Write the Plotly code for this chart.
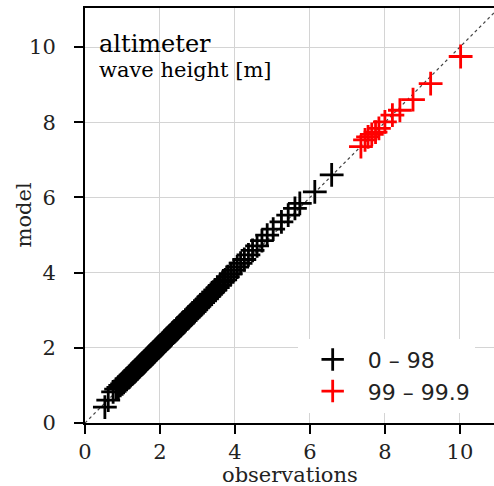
import plotly.graph_objects as go

# percentiles 0..98 (black) and 99..99.9 (red)
obs_low = [0.53, 0.62, 0.75, 0.83, 0.89, 0.94, 0.99, 1.03, 1.07, 1.11,
           1.15, 1.18, 1.21, 1.25, 1.28, 1.31, 1.34, 1.37, 1.40, 1.43,
           1.46, 1.49, 1.52, 1.55, 1.58, 1.61, 1.64, 1.67, 1.70, 1.73,
           1.76, 1.79, 1.82, 1.85, 1.88, 1.91, 1.94, 1.97, 2.00, 2.03,
           2.06, 2.09, 2.12, 2.15, 2.18, 2.21, 2.24, 2.27, 2.31, 2.34,
           2.37, 2.40, 2.44, 2.47, 2.50, 2.54, 2.57, 2.61, 2.64, 2.68,
           2.72, 2.76, 2.80, 2.84, 2.88, 2.92, 2.96, 3.01, 3.05, 3.10,
           3.15, 3.20, 3.25, 3.30, 3.36, 3.42, 3.48, 3.54, 3.60, 3.67,
           3.74, 3.81, 3.89, 3.97, 4.06, 4.15, 4.25, 4.36, 4.47, 4.59,
           4.72, 4.86, 5.02, 5.24, 5.42, 5.60, 5.73, 6.13, 6.58]
mod_low = [0.42, 0.61, 0.83, 0.90, 0.95, 1.00, 1.04, 1.08, 1.12, 1.16,
           1.20, 1.23, 1.26, 1.30, 1.33, 1.36, 1.39, 1.42, 1.45, 1.48,
           1.51, 1.54, 1.57, 1.60, 1.63, 1.66, 1.69, 1.72, 1.75, 1.78,
           1.81, 1.84, 1.87, 1.90, 1.93, 1.96, 1.99, 2.02, 2.05, 2.08,
           2.11, 2.14, 2.17, 2.20, 2.23, 2.26, 2.29, 2.32, 2.36, 2.39,
           2.42, 2.45, 2.49, 2.52, 2.55, 2.59, 2.62, 2.66, 2.69, 2.73,
           2.77, 2.81, 2.85, 2.89, 2.93, 2.97, 3.01, 3.06, 3.10, 3.15,
           3.20, 3.25, 3.30, 3.36, 3.42, 3.48, 3.54, 3.60, 3.66, 3.74,
           3.81, 3.89, 3.97, 4.06, 4.15, 4.25, 4.35, 4.47, 4.59, 4.71,
           4.85, 5.00, 5.16, 5.35, 5.53, 5.71, 5.84, 6.15, 6.60]
obs_high = [7.36, 7.47, 7.55, 7.65, 7.75, 7.84, 8.00, 8.20, 8.40, 8.75, 9.22, 10.02]
mod_high = [7.35, 7.53, 7.61, 7.68, 7.74, 7.84, 8.01, 8.19, 8.32, 8.60, 9.03, 9.75]
ref_line = [0, 11]

label_low = "0 – 98"
label_high = "99 – 99.9"
tick_vals = [0, 2, 4, 6, 8, 10]

fig = go.Figure()
fig.add_trace(go.Scatter(x=ref_line, y=ref_line, mode="lines",
                         line=dict(color="#444444", width=1.2, dash="dot"),
                         showlegend=False, hoverinfo="skip"))
fig.add_trace(go.Scatter(x=obs_low, y=mod_low, mode="markers", name=label_low,
                         marker=dict(symbol="cross-thin", size=17,
                                     line=dict(color="black", width=2.8), color="black")))
fig.add_trace(go.Scatter(x=obs_high, y=mod_high, mode="markers", name=label_high,
                         marker=dict(symbol="cross-thin", size=17,
                                     line=dict(color="#ff0000", width=2.8), color="#ff0000")))

axis_common = dict(
    showgrid=True, gridcolor="#d4d4d4", gridwidth=1,
    showline=True, linecolor="black", linewidth=2,
    ticks="outside", ticklen=9, tickwidth=2, tickcolor="black",
    tickvals=tick_vals, zeroline=False,
    tickfont=dict(family="DejaVu Serif", size=21, color="#222222"),
)
fig.update_xaxes(**axis_common, range=[0, 10.91], mirror=True, ticklabelstandoff=0)
fig.update_yaxes(**axis_common, range=[0, 11.04], ticklabelstandoff=14)

plot_w = 494 - 85 - 0
plot_h = 486 - 8 - 63
title_font = dict(family="DejaVu Serif", size=21, color="#222222")
fig.add_annotation(x=0.5, y=(486 - 63 - 475) / plot_h, xref="paper", yref="paper",
                   xanchor="center", yanchor="middle", showarrow=False,
                   text="observations", font=title_font)
fig.add_annotation(x=(23 - 85) / plot_w, y=0.5, xref="paper", yref="paper",
                   xanchor="center", yanchor="middle", showarrow=False,
                   text="model", textangle=-90, font=title_font)

fig.add_annotation(x=0.03, y=0.952, xref="paper", yref="paper", xanchor="left", yanchor="top",
                   text="altimeter", showarrow=False,
                   font=dict(family="DejaVu Serif", size=24, color="black"))
fig.add_annotation(x=0.03, y=0.884, xref="paper", yref="paper", xanchor="left", yanchor="top",
                   text="wave height [m]", showarrow=False,
                   font=dict(family="DejaVu Serif", size=21, color="black"))

fig.update_layout(
    width=494, height=486,
    margin=dict(l=85, r=0, t=8, b=63),
    plot_bgcolor="white", paper_bgcolor="white",
    legend=dict(x=0.52, xanchor="left", y=0.025, yanchor="bottom",
                bgcolor="white", borderwidth=0,
                font=dict(family="DejaVu Sans", size=22, color="#222222"),
                itemwidth=60),
)
fig.write_html("out.html")
